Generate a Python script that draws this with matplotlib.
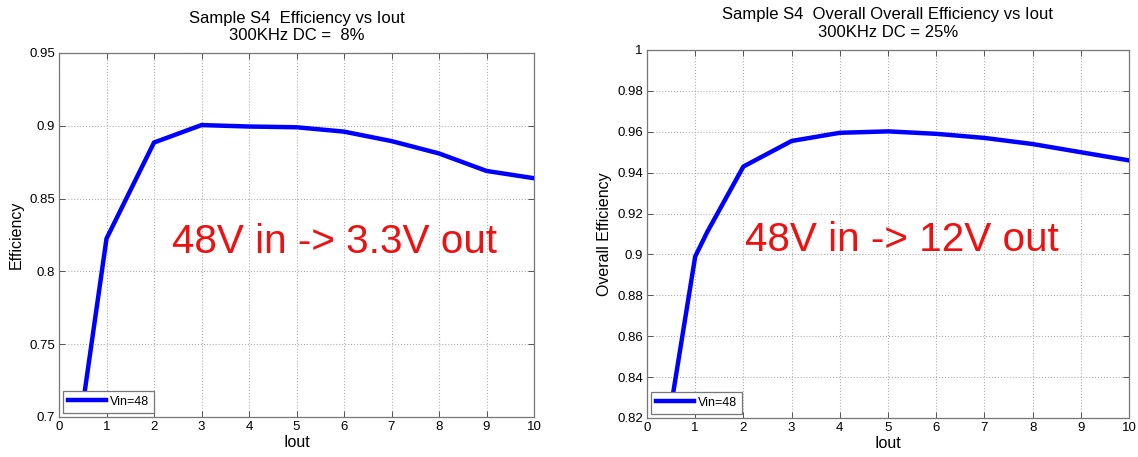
import matplotlib
matplotlib.use("Agg")
import matplotlib.pyplot as plt
from matplotlib.ticker import MultipleLocator, FuncFormatter

plt.rcParams['font.family'] = ['Liberation Sans', 'DejaVu Sans']

# Data
iout_left = [0.5, 1, 2, 3, 4, 5, 6, 7, 8, 9, 10]
eff_left = [0.708, 0.8225, 0.8885, 0.9005, 0.8995, 0.899, 0.896, 0.8895, 0.881, 0.869, 0.864]

iout_right = [0.5, 1, 1.25, 2, 3, 4, 5, 6, 7, 8, 9, 10]
eff_right = [0.826, 0.899, 0.911, 0.943, 0.9555, 0.9595, 0.9602, 0.959, 0.957, 0.954, 0.950, 0.946]

titles = ["Sample S4  Efficiency vs Iout\n300KHz DC =  8%",
          "Sample S4  Overall Overall Efficiency vs Iout\n300KHz DC = 25%"]
ylabels = ["Efficiency", "Overall Efficiency"]
notes = ["48V in -> 3.3V out", "48V in -> 12V out"]
legend_label = "Vin=48"

W, H = 1138, 457
fig = plt.figure(figsize=(W / 100, H / 100), dpi=100)

def px_axes(l, r, t, b):
    return [l / W, (H - b) / H, (r - l) / W, (b - t) / H]

ax1 = fig.add_axes(px_axes(59, 534, 53, 417))
ax2 = fig.add_axes(px_axes(647, 1129, 50, 418))

fmt = FuncFormatter(lambda v, p: f"{v:g}")

for ax, x, y, title, yl, note, ylim, ystep, notepos in [
    (ax1, iout_left, eff_left, titles[0], ylabels[0], notes[0], (0.7, 0.95), 0.05, (0.238, 0.48)),
    (ax2, iout_right, eff_right, titles[1], ylabels[1], notes[1], (0.82, 1.0), 0.02, (0.203, 0.484)),
]:
    ax.plot(x, y, color=(0, 0, 1), lw=3.2, label=legend_label, solid_joinstyle='miter', zorder=3)
    ax.set_xlim(0, 10)
    ax.set_ylim(*ylim)
    ax.xaxis.set_major_locator(MultipleLocator(1))
    ax.yaxis.set_major_locator(MultipleLocator(ystep))
    ax.yaxis.set_major_formatter(fmt)
    ax.grid(True, color='#b0b0b0', linestyle=':', linewidth=0.8)
    ax.tick_params(direction='in', length=4, width=0.7, labelsize=9.5, top=True, right=True,
                   colors='#555555', labelcolor='black', pad=3)
    for s in ax.spines.values():
        s.set_color('#777777')
        s.set_linewidth(0.9)
    ax.set_title(title, fontsize=12, pad=9, linespacing=1.25)
    ax.set_xlabel("Iout", fontsize=11.5, labelpad=1)
    ax.set_ylabel(yl, fontsize=11.5, labelpad=4)
    ax.text(notepos[0], notepos[1], note, transform=ax.transAxes, color='#ee1111',
            fontsize=29.2, ha='left', va='center')
    leg = ax.legend(loc='lower left', fontsize=9, frameon=True, fancybox=False,
                    borderaxespad=0.35, handlelength=3.0, handletextpad=0.3,
                    borderpad=0.4)
    leg.get_frame().set_edgecolor('#777777')
    leg.get_frame().set_linewidth(0.9)
    leg.get_frame().set_alpha(1)
    leg.set_zorder(5)

fig.savefig("out.png", dpi=100)
